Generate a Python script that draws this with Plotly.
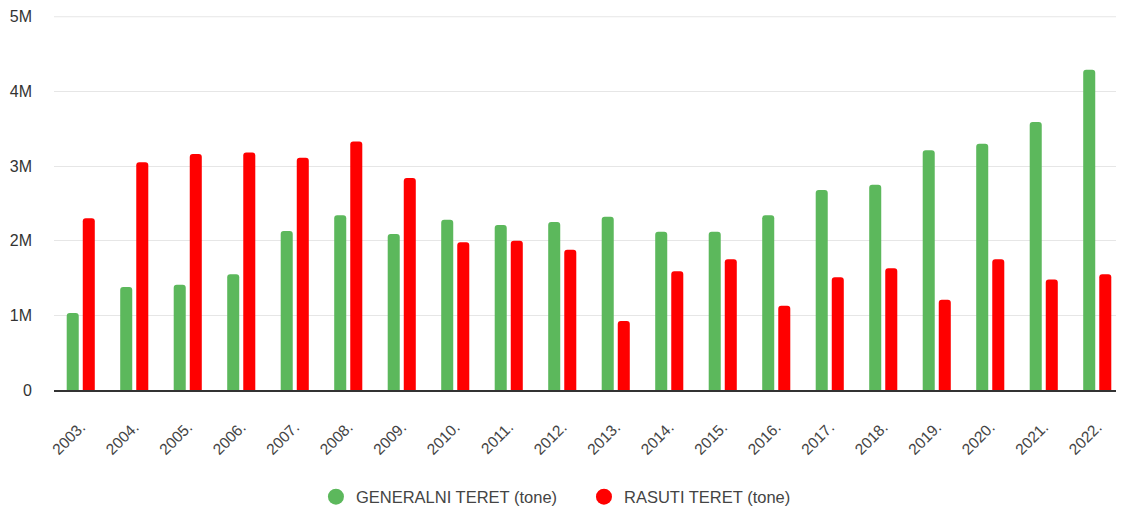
import plotly.graph_objects as go

years = ["2003.", "2004.", "2005.", "2006.", "2007.", "2008.", "2009.", "2010.", "2011.", "2012.",
         "2013.", "2014.", "2015.", "2016.", "2017.", "2018.", "2019.", "2020.", "2021.", "2022."]
generalni = [1.03e6, 1.38e6, 1.41e6, 1.55e6, 2.13e6, 2.34e6, 2.09e6, 2.28e6, 2.21e6, 2.25e6,
             2.32e6, 2.12e6, 2.12e6, 2.34e6, 2.68e6, 2.75e6, 3.21e6, 3.30e6, 3.59e6, 4.29e6]
rasuti = [2.30e6, 3.05e6, 3.16e6, 3.18e6, 3.11e6, 3.33e6, 2.84e6, 1.98e6, 2.00e6, 1.88e6,
          0.925e6, 1.59e6, 1.75e6, 1.13e6, 1.51e6, 1.63e6, 1.21e6, 1.75e6, 1.48e6, 1.55e6]
series_names = ["GENERALNI TERET (tone)", "RASUTI TERET (tone)"]
colors = ["#5cb85c", "#ff0000"]
y_max = 5e6
y_tickvals = [0, 1e6, 2e6, 3e6, 4e6, 5e6]
y_ticktext = ["0", "1M", "2M", "3M", "4M", "5M"]

fig = go.Figure()
for name, vals, col in zip(series_names, [generalni, rasuti], colors):
    fig.add_trace(go.Bar(x=years, y=vals, name=name, marker_color=col,
                         marker_line_width=0, showlegend=False))
for name, col, lg in zip(series_names, colors, ["legend", "legend2"]):
    fig.add_trace(go.Scatter(x=[None], y=[None], mode="markers", name=name, legend=lg,
                             marker=dict(symbol="circle", size=17, color=col)))

# top gridline (at the axis range edge) drawn explicitly
fig.add_shape(type="line", xref="paper", x0=0, x1=1, yref="y", y0=y_max, y1=y_max,
              line=dict(color="#e6e6e6", width=1), layer="below")

legend_font = dict(size=16.5, color="#444")
# page body has an 8px margin, so the figure is sized/positioned to compensate
fig.update_layout(
    width=1116, height=500,
    margin=dict(l=46, r=0, t=8, b=118, autoexpand=False),
    paper_bgcolor="white", plot_bgcolor="white",
    font=dict(family="Liberation Sans, Arial, sans-serif", size=15, color="#444"),
    barmode="group", bargap=0.40, bargroupgap=0.25, barcornerradius=3,
    showlegend=True,
    legend=dict(orientation="h", x=0.2448, xanchor="left", y=-0.286, yanchor="middle",
                font=legend_font),
    legend2=dict(orientation="h", x=0.4953, xanchor="left", y=-0.286, yanchor="middle",
                 font=legend_font),
    xaxis=dict(tickangle=-45, showgrid=False, showline=True, linecolor="#333", linewidth=2,
               ticks="", tickfont=dict(size=15.5, color="#444"), automargin=False,
               ticklabelstandoff=20),
    yaxis=dict(range=[0, 5.01e6], tickvals=y_tickvals, ticktext=y_ticktext,
               showgrid=True, gridcolor="#e6e6e6", gridwidth=1, zeroline=False,
               tickfont=dict(size=16, color="#333"), ticklabelstandoff=21, automargin=False),
)
fig.write_html("out.html")
